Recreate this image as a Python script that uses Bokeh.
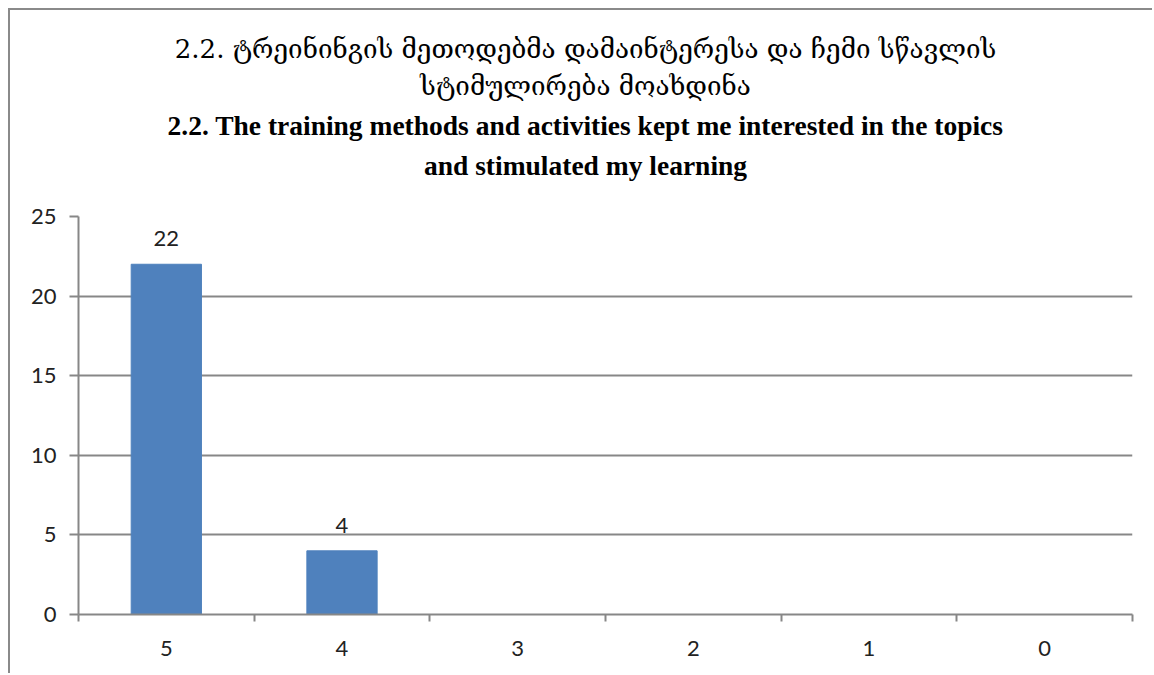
from bokeh.plotting import figure
from bokeh.models import ColumnDataSource, Range1d, FixedTicker, LabelSet, Title
from bokeh.core.properties import value
from bokeh.embed import file_html
from bokeh.resources import INLINE

# Survey answers (rating -> number of respondents)
ratings = ["5", "4", "3", "2", "1", "0"]
counts = [22, 4, 0, 0, 0, 0]
y_ticks = [0, 5, 10, 15, 20, 25]

title_ka = ["2.2. ტრეინინგის მეთოდებმა დამაინტერესა და ჩემი სწავლის",
            "სტიმულირება მოახდინა"]
title_en = ["2.2. The training methods and activities kept me interested in the topics",
            "and stimulated my learning"]

GRID = "#878787"
BAR = "#4F81BD"
TICK_FONT = "Lato"
LABEL_SIZE = "22px"

n = len(ratings)
centers = [i + 0.5 for i in range(n)]      # slot centres of the categories
edges = list(range(n + 1))                 # slot boundaries

p = figure(width=1144, height=665, x_range=Range1d(0, n), y_range=Range1d(0, 25),
           output_backend="svg", toolbar_location=None,
           min_border_left=68, min_border_right=22, min_border_top=206, min_border_bottom=61)
p.outline_line_color = None
p.background_fill_color = "white"
p.border_fill_color = "white"
# chart area border (top and left edges visible inside the window)
p.styles = {"margin-left": "8px", "margin-top": "8px",
            "border-left": "2px solid #8a8a8a", "border-top": "2px solid #8a8a8a"}

p.xgrid.visible = False
p.ygrid.ticker = FixedTicker(ticks=y_ticks)
p.ygrid.grid_line_color = GRID
p.ygrid.grid_line_width = 2

ya = p.yaxis[0]
ya.ticker = FixedTicker(ticks=y_ticks)
ya.axis_line_color = GRID
ya.axis_line_width = 2
ya.major_tick_line_color = GRID
ya.major_tick_line_width = 2
ya.major_tick_in = 0
ya.major_tick_out = 9
ya.minor_tick_line_color = None
ya.major_label_standoff = 13
ya.major_label_text_font = TICK_FONT
ya.major_label_text_font_size = LABEL_SIZE
ya.major_label_text_color = "#222222"

# category labels at slot centres, tick marks on slot boundaries
xa = p.xaxis[0]
xa.ticker = FixedTicker(ticks=centers, minor_ticks=edges)
xa.major_label_overrides = {c: r for c, r in zip(centers, ratings)}
xa.axis_line_color = GRID
xa.axis_line_width = 2
xa.major_tick_line_color = None
xa.major_tick_in = 0
xa.major_tick_out = 0
xa.minor_tick_line_color = GRID
xa.minor_tick_line_width = 2
xa.minor_tick_in = 0
xa.minor_tick_out = 7
xa.major_label_standoff = 19
xa.major_label_text_font = TICK_FONT
xa.major_label_text_font_size = LABEL_SIZE
xa.major_label_text_color = "#222222"

src = ColumnDataSource(data=dict(x=centers, count=counts))
p.vbar(x="x", top="count", width=0.4, source=src, fill_color=BAR, line_color=BAR)

shown = [i for i, c in enumerate(counts) if c > 0]
lbl_src = ColumnDataSource(data=dict(x=[centers[i] for i in shown],
                                     count=[counts[i] for i in shown],
                                     text=[str(counts[i]) for i in shown]))
p.add_layout(LabelSet(x="x", y="count", text="text", source=lbl_src, y_offset=18,
                      text_align="center", text_baseline="alphabetic",
                      text_font=value(TICK_FONT), text_font_size=value(LABEL_SIZE),
                      text_color="#222222"))

# empty gap between the plot area and the title block
p.add_layout(Title(text=" ", text_font_size="1px", standoff=30), "above")

# two-language title, stacked outward from the plot area
lines = [(title_en[1], "Liberation Serif", "bold", "27.5px", 6),
         (title_en[0], "Liberation Serif", "bold", "27.5px", 7),
         (title_ka[1], "DejaVu Serif", "normal", "26px", 7),
         (title_ka[0], "DejaVu Serif", "normal", "26px", 3)]
for txt, font, style, size, gap in lines:
    p.add_layout(Title(text=txt, align="center", standoff=gap, padding=(0, 40, 0, 0),
                       text_font=font, text_font_style=style, text_font_size=size,
                       text_color="black"), "above")

open("out.html", "w").write(file_html(p, INLINE))
